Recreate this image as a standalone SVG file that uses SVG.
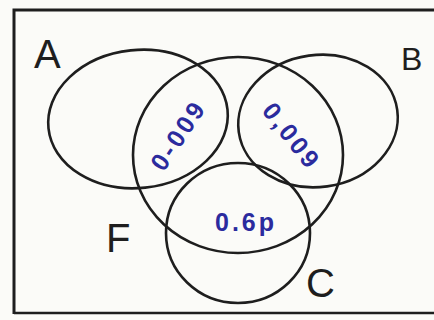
<svg xmlns="http://www.w3.org/2000/svg" width="434" height="320" viewBox="0 0 434 320">
<style>
.set{fill:none;stroke:#1e1e1e;stroke-width:2.6}
.lbl{font-family:"Liberation Sans",Arial,sans-serif;fill:#1e1e1e}
.val{font-family:"Liberation Sans",Arial,sans-serif;fill:#2b2b9e;font-size:25px;font-weight:bold;letter-spacing:3px;text-anchor:middle;dominant-baseline:central}
</style>
<rect width="434" height="320" fill="#fbfbf8"/>
<g id="frame"><path d="M14,314 L14,10 L440,10" fill="none" stroke="#1e1e1e" stroke-width="3"/><path d="M14,313 L440,313" fill="none" stroke="#1e1e1e" stroke-width="2.5"/></g>
<g id="A"><ellipse class="set" cx="138" cy="119" rx="90" ry="69" transform="rotate(-6 138 119)"/><text class="lbl" x="34" y="68" font-size="40">A</text><text class="val" x="178" y="135" transform="rotate(-56 178 135)">0-009</text></g>
<g id="B"><ellipse class="set" cx="318" cy="121" rx="80" ry="66" transform="rotate(-8 318 121)"/><text class="lbl" x="401" y="70" font-size="32">B</text><text class="val" x="292" y="136" transform="rotate(52 292 136)">0,009</text></g>
<g id="F"><ellipse class="set" cx="238" cy="155" rx="105" ry="98"/><text class="lbl" x="106" y="252" font-size="40">F</text></g>
<g id="C"><ellipse class="set" cx="238" cy="233" rx="72" ry="70"/><text class="lbl" x="306" y="297" font-size="40">C</text><text class="val" x="246" y="222" font-size="27">0.6p</text></g>
<g id="connectors"/>
</svg>
